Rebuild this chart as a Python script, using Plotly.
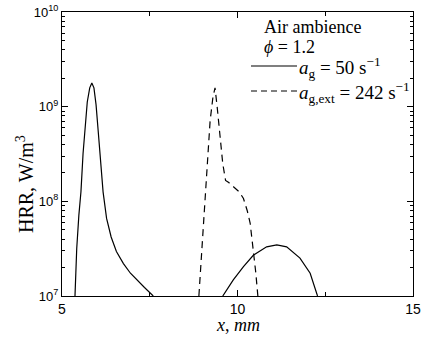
import plotly.graph_objects as go

# Solid curve (a_g = 50 s^-1): two branches separated by a gap
x_solid = [5.37, 5.42, 5.48, 5.54, 5.60, 5.66, 5.72, 5.79, 5.85, 5.91, 5.97, 6.03, 6.10, 6.17,
           6.27, 6.40, 6.55, 6.75, 6.95, 7.15, 7.35, 7.60,
           None,
           9.58, 9.88, 10.17, 10.45, 10.83, 11.12, 11.40, 11.78, 12.07, 12.28]
y_solid = [1.0e7, 3.2e7, 7.1e7, 1.26e8, 3.2e8, 6.3e8, 1.12e9, 1.58e9, 1.78e9, 1.58e9, 1.05e9, 5.6e8, 2.8e8, 1.26e8,
           6.6e7, 4.2e7, 2.95e7, 2.2e7, 1.74e7, 1.45e7, 1.23e7, 1.0e7,
           None,
           1.0e7, 1.48e7, 2.04e7, 2.69e7, 3.31e7, 3.47e7, 3.31e7, 2.51e7, 1.74e7, 1.0e7]

# Dashed curve (a_g,ext = 242 s^-1)
x_dash = [8.90, 8.97, 9.05, 9.13, 9.22, 9.30, 9.36, 9.42, 9.50, 9.58, 9.66, 9.75, 9.90, 10.05,
          10.17, 10.28, 10.36, 10.45, 10.52, 10.58]
y_dash = [1.0e7, 2.5e7, 7.9e7, 2.5e8, 7.1e8, 1.26e9, 1.58e9, 1.0e9, 5.0e8, 2.5e8, 1.66e8, 1.58e8, 1.41e8, 1.26e8,
          1.07e8, 7.9e7, 5.9e7, 3.2e7, 1.78e7, 1.0e7]

x_ticks = [5, 10, 15]
x_minor = [7.5, 12.5]
y_major = [1e7, 1e8, 1e9, 1e10]
y_labels = ["10<sup>7</sup>", "10<sup>8</sup>", "10<sup>9</sup>", "10<sup>10</sup>"]
y_minor = [m * d for d in (1e7, 1e8, 1e9) for m in range(2, 10)]

fig = go.Figure()
fig.add_trace(go.Scatter(x=x_solid, y=y_solid, mode="lines",
                         line=dict(color="black", width=1.2), showlegend=False))
fig.add_trace(go.Scatter(x=x_dash, y=y_dash, mode="lines",
                         line=dict(color="black", width=1.2, dash="7px,5px"), showlegend=False))

axis_common = dict(showline=True, linecolor="black", linewidth=1.2, mirror="allticks",
                   ticks="inside", tickcolor="black", ticklen=6, showgrid=False, zeroline=False,
                   automargin=False)

fig.update_xaxes(range=[5, 15], tickvals=x_ticks, ticktext=[str(v) for v in x_ticks],
                 tickfont=dict(family="Liberation Sans, Arial", size=14, color="black"),
                 minor=dict(ticks="inside", tickvals=x_minor, ticklen=4, tickcolor="black"),
                 **axis_common)
fig.update_yaxes(type="log", range=[7, 10], tickvals=y_major, ticktext=y_labels,
                 tickfont=dict(family="Liberation Sans, Arial", size=13, color="black"),
                 minor=dict(ticks="inside", tickvals=y_minor, ticklen=3, tickcolor="black"),
                 **axis_common)

serif = dict(family="Liberation Serif, Times New Roman", size=18, color="black")
serif_big = dict(family="Liberation Serif, Times New Roman", size=19, color="black")

def px_x(p):
    return (p - 62) / (413 - 62)

def px_y(p):
    return 1 - (p - 12) / (296 - 12)

# Axis titles
fig.add_annotation(x=px_x(25), y=px_y(184), xref="paper", yref="paper", text="HRR, W/m<sup>3</sup>",
                   showarrow=False, textangle=-90, xanchor="center", yanchor="middle",
                   font=dict(family="Liberation Serif, Times New Roman", size=20, color="black"))
fig.add_annotation(x=px_x(238), y=px_y(325), xref="paper", yref="paper", text="<i>x</i>, <i>mm</i>",
                   showarrow=False, xanchor="center", yanchor="middle",
                   font=dict(family="Liberation Serif, Times New Roman", size=18, color="black"))

# Legend block
fig.add_annotation(x=px_x(262), y=px_y(27), xref="paper", yref="paper", text="Air ambience",
                   showarrow=False, xanchor="left", yanchor="middle", font=serif)
fig.add_annotation(x=px_x(262), y=px_y(47), xref="paper", yref="paper", text="<i>ϕ</i> = 1.2",
                   showarrow=False, xanchor="left", yanchor="middle", font=serif)
fig.add_annotation(x=px_x(297), y=px_y(68), xref="paper", yref="paper",
                   text="<i>a</i><sub>g</sub> = 50 s<sup>−1</sup>",
                   showarrow=False, xanchor="left", yanchor="middle", font=serif_big)
fig.add_annotation(x=px_x(297), y=px_y(93), xref="paper", yref="paper",
                   text="<i>a</i><sub>g,ext</sub> = 242 s<sup>−1</sup>",
                   showarrow=False, xanchor="left", yanchor="middle", font=serif_big)
fig.add_shape(type="line", xref="paper", yref="paper", x0=px_x(251), x1=px_x(297), y0=px_y(66), y1=px_y(66),
              line=dict(color="black", width=1.2))
fig.add_shape(type="line", xref="paper", yref="paper", x0=px_x(251), x1=px_x(297), y0=px_y(91), y1=px_y(91),
              line=dict(color="black", width=1.2, dash="6px,4px"))

fig.update_layout(width=423, height=343, margin=dict(l=62, r=10, t=12, b=47, autoexpand=False),
                  plot_bgcolor="white", paper_bgcolor="white", showlegend=False)

fig.write_html("out.html")
